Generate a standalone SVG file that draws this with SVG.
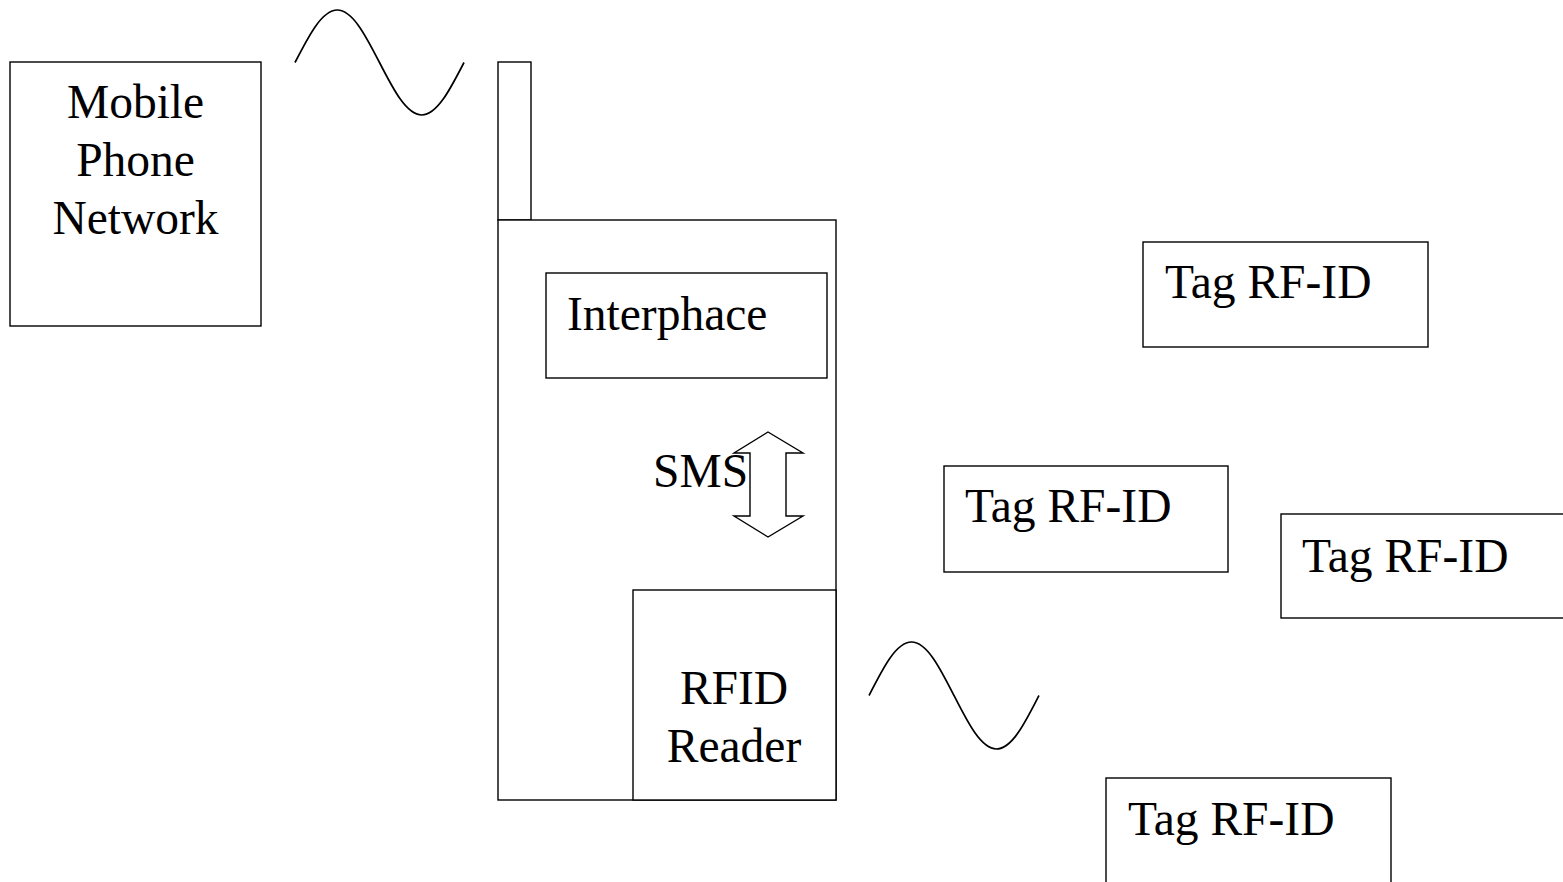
<svg xmlns="http://www.w3.org/2000/svg" width="1563" height="882" viewBox="0 0 1563 882">
<style>
.box{fill:#fff;stroke:#000;stroke-width:1.4}
.wave{fill:none;stroke:#000;stroke-width:1.7}
.t{font-family:"Liberation Serif","Times New Roman",serif;font-size:47.5px;fill:#000}
.c{text-anchor:middle}
</style>
<rect width="1563" height="882" fill="#fff"/>
<g id="network">
<rect class="box" x="10" y="62" width="251" height="264"/>
<text class="t c" x="135.5" y="118">Mobile</text>
<text class="t c" x="135.5" y="176">Phone</text>
<text class="t c" x="135.5" y="234">Network</text>
</g>
<g id="phone">
<rect class="box" x="498" y="62" width="33" height="158"/>
<rect class="box" x="498" y="220" width="338" height="580"/>
</g>
<g id="interphace">
<rect class="box" x="546" y="273" width="281" height="105"/>
<text class="t" x="567" y="330">Interphace</text>
</g>
<g id="rfid-reader">
<rect class="box" x="633" y="590" width="203" height="210"/>
<text class="t c" x="734" y="704">RFID</text>
<text class="t c" x="734" y="762">Reader</text>
</g>
<g id="sms">
<polygon class="box" points="768,432 803,453 786,453 786,516 803,516 768,537 734,516 750,516 750,453 734,453"/>
<text class="t" x="653" y="487">SMS</text>
</g>
<g id="tag1">
<rect class="box" x="1143" y="242" width="285" height="105"/>
<text class="t" x="1165" y="298">Tag RF-ID</text>
</g>
<g id="tag2">
<rect class="box" x="944" y="466" width="284" height="106"/>
<text class="t" x="965" y="522">Tag RF-ID</text>
</g>
<g id="tag3">
<rect class="box" x="1281" y="514" width="300" height="104"/>
<text class="t" x="1302" y="572">Tag RF-ID</text>
</g>
<g id="tag4">
<rect class="box" x="1106" y="778" width="285" height="130"/>
<text class="t" x="1128" y="835">Tag RF-ID</text>
</g>
<g id="connectors">
<path class="wave" d="M295,62.5 C308.8,35.6 322,10 337.25,10 C352.5,10 365.7,35.6 379.5,62.5 C393.3,89.4 406.5,115 421.75,115 C437,115 450.2,89.4 464,62.5"/>
<path class="wave" d="M869,695.5 C882.9,668.1 896.1,642 911.5,642 C926.9,642 940.1,668.1 954,695.5 C967.9,722.9 981.1,749 996.5,749 C1011.9,749 1025.1,722.9 1039,695.5"/>
</g>
</svg>
